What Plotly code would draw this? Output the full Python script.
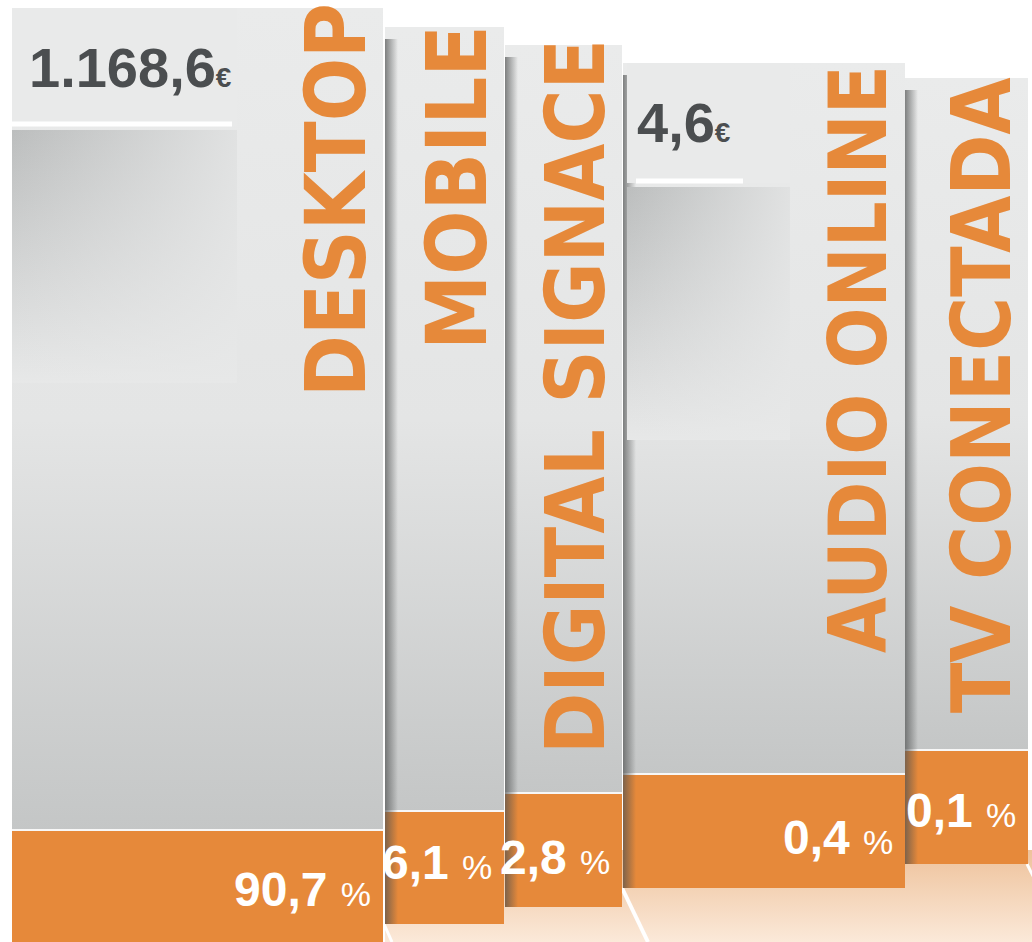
import plotly.graph_objects as go

# ---------------- data ----------------
categories = ["DESKTOP", "MOBILE", "DIGITAL SIGNACE", "AUDIO ONLINE", "TV CONECTADA"]
share_pct = [90.7, 6.1, 2.8, 0.4, 0.1]
amount_eur = [1168.6, None, None, 4.6, None]

# ---------------- layout geometry (pixels, y downwards) ----------------
W, H = 1032, 942
panel_left = [12, 385, 505, 623, 905]
panel_right = [383, 504, 622, 905, 1028]
panel_top = [8, 27, 45, 63, 78]
band_top = [831, 812, 794, 775, 751]
band_bottom = [942, 924, 907, 888, 864]
label_center_y = [200, 188, 397, 359, 395]
label_size = [83, 84, 82, 80, 82]
pct_center_y = [889, 862, 857, 837, 810]

ORANGE = "#e6893a"
DARK = "#4b4e50"
FONT_LABEL = "DejaVu Sans Condensed, DejaVu Sans, sans-serif"
FONT_NUM = "Liberation Sans, Arial, sans-serif"


def fmt_es(v, dec=1):
    s = f"{v:,.{dec}f}"
    return s.replace(",", "X").replace(".", ",").replace("X", ".")


fig = go.Figure()


def rect(x0, x1, y0, y1, color=None, grad=None):
    kw = dict(x=[x0, x1, x1, x0, x0], y=[y0, y0, y1, y1, y0], mode="lines",
              line=dict(width=0), fill="toself", hoverinfo="skip", showlegend=False)
    if grad is not None:
        kw["fillgradient"] = grad
    else:
        kw["fillcolor"] = color
    fig.add_trace(go.Scatter(**kw))


def seg(xa, ya, xb, yb, color, width):
    fig.add_trace(go.Scatter(x=[xa, xb], y=[ya, yb], mode="lines", line=dict(color=color, width=width),
                             hoverinfo="skip", showlegend=False))


# floor (vertical gradient: 0 = bottom, 1 = top)
rect(panel_left[1], W, 850, H, grad=dict(type="vertical", colorscale=[[0, "#fbe9d9"], [1, "#eec29b"]]))
for (xa, ya, xb, yb, w) in [(384, 924, 392, 942, 3), (622, 888, 648, 942, 4), (1027, 864, 1040, 890, 3)]:
    seg(xa, ya, xb, yb, "white", w)

for i, cat in enumerate(categories):
    l, r, t, bt, bb = panel_left[i], panel_right[i], panel_top[i], band_top[i], band_bottom[i]
    # gray panel body
    rect(l, r, t, bt, grad=dict(type="vertical",
                                colorscale=[[0, "#c4c6c6"], [0.5, "#e4e5e5"], [1, "#eaebeb"]]))
    # orange band
    rect(l, r, bt, bb, color=ORANGE)
    # white separator
    seg(l, bt - 1, r, bt - 1, "#f7f7f7", 2)
    # left shadow cast by the previous panel (horizontal: 0 = left)
    if i > 0:
        rect(l, l + 13, t + 12, bb, grad=dict(type="horizontal",
                                               colorscale=[[0, "rgba(80,82,82,0.7)"], [1, "rgba(80,82,82,0)"]]))

# inner value boxes (desktop, audio)
boxes = {0: (12, 237, 130, 383, 12, 232, 124), 3: (627, 790, 187, 440, 636, 743, 181)}
for i, (x0, x1, y0, y1, lx0, lx1, ly) in boxes.items():
    rect(x0, x1, panel_top[i], y0 - 4, color="#e9eaea")
    rect(x0, x1, y0, y1, grad=dict(type="vertical", colorscale=[[0, "#e7e8e8"], [1, "#bcbebe"]]))
    rect(x0, x1, y0, y1, grad=dict(type="horizontal",
                                   colorscale=[[0, "rgba(231,232,232,0)"], [1, "rgba(231,232,232,0.85)"]]))
    seg(lx0, ly, lx1, ly, "white", 5)

ann = []
for i, cat in enumerate(categories):
    # vertical category label
    ann.append(dict(x=panel_right[i] - 47, y=label_center_y[i], xref="x", yref="y", text=f"<b>{cat}</b>",
                    textangle=-90, showarrow=False, xanchor="center", yanchor="middle",
                    font=dict(family=FONT_LABEL, size=label_size[i], color=ORANGE)))
    # share label
    ann.append(dict(x=panel_right[i] - 10, y=pct_center_y[i], xref="x", yref="y",
                    text=f"<b>{fmt_es(share_pct[i])}</b> <span style='font-size:34px'>%</span>",
                    showarrow=False, xanchor="right", yanchor="middle",
                    font=dict(family=FONT_NUM, size=48, color="white")))
    if amount_eur[i] is not None:
        x0 = panel_left[i] + (15 if i == 0 else 12)
        yc = 67 if i == 0 else 122
        ann.append(dict(x=x0, y=yc, xref="x", yref="y",
                        text=f"<b>{fmt_es(amount_eur[i])}<span style='font-size:28px'>€</span></b>",
                        showarrow=False, xanchor="left", yanchor="middle",
                        font=dict(family=FONT_NUM, size=56, color=DARK)))

fig.update_layout(
    width=W, height=H, margin=dict(l=0, r=0, t=0, b=0),
    paper_bgcolor="white", plot_bgcolor="white",
    xaxis=dict(range=[0, W], visible=False, fixedrange=True),
    yaxis=dict(range=[H, 0], visible=False, fixedrange=True),
    annotations=ann, showlegend=False,
)
fig.write_html("out.html")
